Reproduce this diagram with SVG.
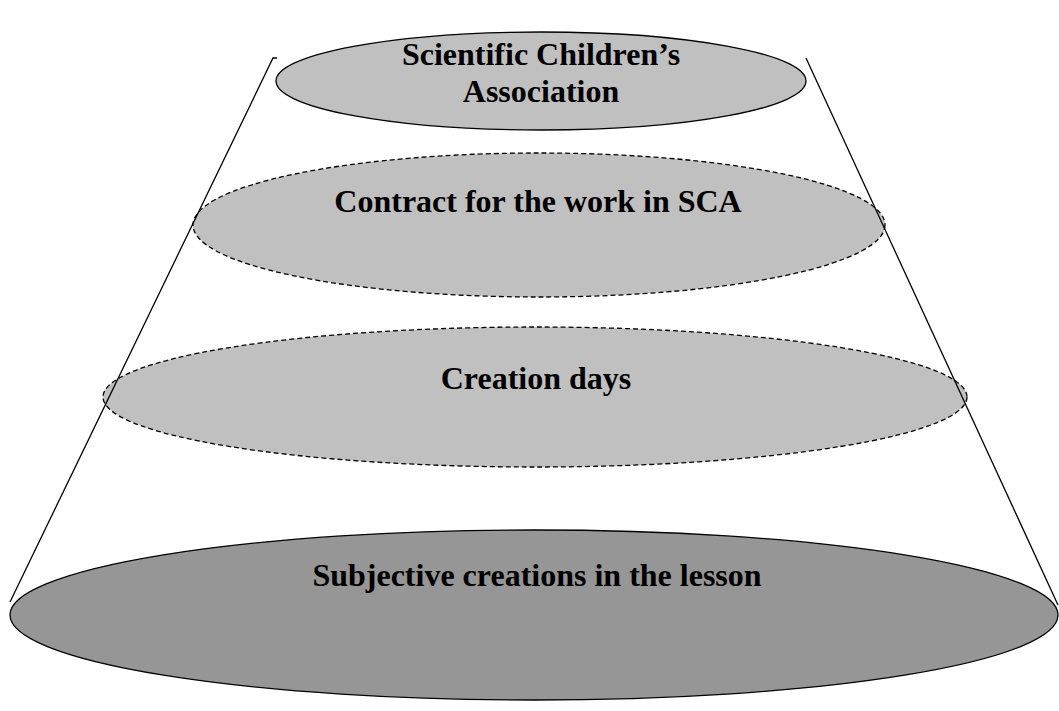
<svg xmlns="http://www.w3.org/2000/svg" width="1059" height="711" viewBox="0 0 1059 711">
  <style>
    .lvl { stroke: #000; stroke-width: 1.3; }
    .light { fill: #c0c0c0; }
    .dark { fill: #969696; }
    .dashed { stroke-dasharray: 5 3; }
    .edge { fill: none; stroke: #000; stroke-width: 1.3; }
    .label { font-family: "Liberation Serif", "Times New Roman", serif; font-weight: bold; font-size: 32px; fill: #000; text-anchor: middle; }
  </style>
  <rect width="1059" height="711" fill="#fff"/>

  <g id="level-base">
    <ellipse class="lvl dark" cx="534" cy="615" rx="524" ry="85"/>
    <text class="label" x="537" y="586">Subjective creations in the lesson</text>
  </g>

  <g id="level-creation-days">
    <ellipse class="lvl light dashed" cx="535" cy="397" rx="432" ry="70"/>
    <text class="label" x="536" y="389">Creation days</text>
  </g>

  <g id="level-contract">
    <ellipse class="lvl light dashed" cx="539" cy="225" rx="346" ry="72"/>
    <text class="label" x="538" y="212">Contract for the work in SCA</text>
  </g>

  <g id="level-top">
    <ellipse class="lvl light" cx="541" cy="81" rx="265" ry="49"/>
    <text class="label" x="541" y="65">Scientific Children’s</text>
    <text class="label" x="541" y="102">Association</text>
  </g>

  <g id="connectors">
    <path class="edge" d="M277 58 L273 58 L10 602"/>
    <path class="edge" d="M806 58 L1058 605"/>
  </g>
</svg>
